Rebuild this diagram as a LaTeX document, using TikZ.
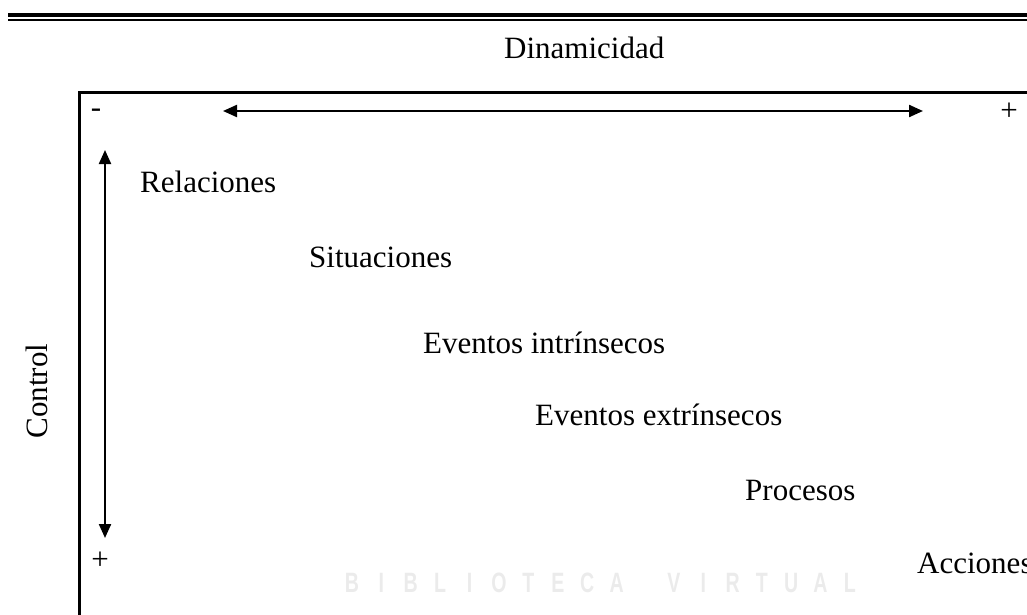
\documentclass[tikz,border=0pt]{standalone}
\usepackage{fontspec}
\setmainfont{Liberation Serif}
\newfontfamily\wmfont{Liberation Sans}
\usetikzlibrary{arrows.meta}

\begin{document}
\begin{tikzpicture}[x=1pt, y=-1pt,
		labeltext/.style={anchor=base west, inner sep=0pt, font=\fontsize{31}{36}\selectfont},
		sign/.style={inner sep=0pt, font=\fontsize{31}{36}\selectfont},
		axisarrow/.style={line width=2.2pt, {Triangle[length=14pt,width=12pt]}-{Triangle[length=14pt,width=12pt]}},
		watermark/.style={text=black!8, inner sep=0pt, font=\wmfont\bfseries\fontsize{28}{28}\selectfont}]
		
		\useasboundingbox (0,0) rectangle (1027,615);
		
		% Double rule on top
		\coordinate (RuleLeft) at (8,15);
		\coordinate (RuleRight) at (1030,15);
		\coordinate (ThinLeft) at (8,20.5);
		\coordinate (ThinRight) at (1030,20.5);
		\draw[line width=3.5pt] (RuleLeft) -- (RuleRight);
		\draw[line width=2pt] (ThinLeft) -- (ThinRight);
		
		% Frame
		\coordinate (BoxBottom) at (79,620);
		\coordinate (BoxCorner) at (79,92.7);
		\coordinate (BoxRight) at (1030,92.7);
		\draw[line width=3pt] (BoxBottom) -- (BoxCorner) -- (BoxRight);
		
		% Dinamicidad axis
		\node[labeltext] (Dynamic) at (504,59) {Dinamicidad};
		\node[sign] (DynMinus) at (96,113) {-};
		\node[sign] (DynPlus) at (1009,112) {+};
		\coordinate (DynLeft) at (223,111);
		\coordinate (DynRight) at (923,111);
		\draw[axisarrow] (DynLeft) -- (DynRight);
		
		% Control axis
		\node[sign, rotate=90] (Control) at (37,391) {Control};
		\node[sign] (CtrlPlus) at (100,561) {+};
		\coordinate (CtrlTop) at (105,150);
		\coordinate (CtrlBottom) at (105,538);
		\draw[axisarrow] (CtrlTop) -- (CtrlBottom);
		
		% Categories
		\node[labeltext] (Relations) at (140,192) {Relaciones};
		\node[labeltext] (Situations) at (309,267) {Situaciones};
		\node[labeltext] (IntrEvents) at (423,353) {Eventos intrínsecos};
		\node[labeltext] (ExtrEvents) at (535,425) {Eventos extrínsecos};
		\node[labeltext] (Processes) at (745,500) {Procesos};
		\node[labeltext] (Actions) at (917,573) {Acciones};
		
		% Watermark
		\foreach \ch [count=\i] in {B,I,B,L,I,O,T,E,C,A}
			\node[watermark] (WmA\i) at ({352+29.4*(\i-1)},583) {\scalebox{0.7}[1]{\ch}};
		\foreach \ch [count=\i] in {V,I,R,T,U,A,L}
			\node[watermark] (WmB\i) at ({674+29.3*(\i-1)},583) {\scalebox{0.7}[1]{\ch}};
		
	\end{tikzpicture}
\end{document}
